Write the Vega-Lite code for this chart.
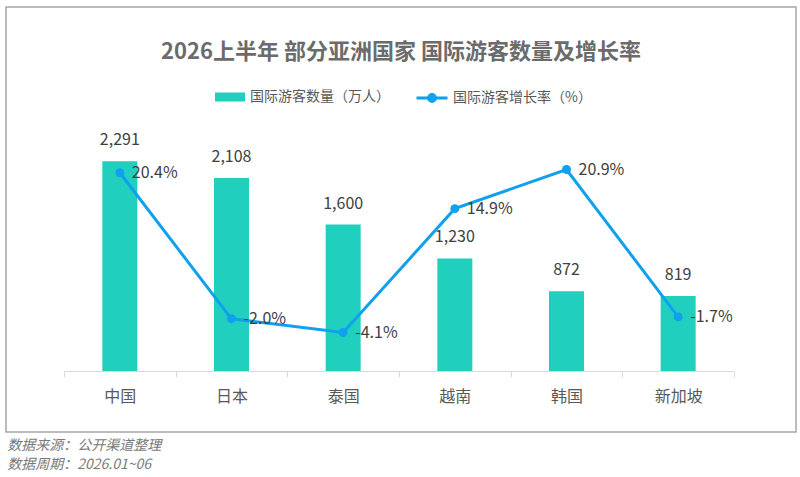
{
  "$schema": "https://vega.github.io/schema/vega-lite/v6.json",
  "autosize": {"type": "pad"},
  "padding": {"left": 5, "top": 6, "right": 5, "bottom": 2},
  "background": "white",
  "title": {
    "text": ["数据来源：公开渠道整理", "数据周期：2026.01~06"],
    "orient": "bottom",
    "anchor": "start",
    "frame": "bounds",
    "offset": 6,
    "fontSize": 14,
    "fontStyle": "italic",
    "fontWeight": "normal",
    "color": "#7a7a7a",
    "lineHeight": 19,
    "baseline": "top",
    "dx": 2
  },
  "vconcat": [
    {
      "width": 790,
      "height": 425,
      "title": {
        "text": "2026上半年 部分亚洲国家 国际游客数量及增长率",
        "orient": "top",
        "anchor": "middle",
        "frame": "group",
        "offset": -57,
        "fontSize": 22,
        "fontWeight": "bold",
        "color": "#6b6b6b"
      },
      "data": {
        "values": [
          {"country": "中国", "visitors": 2291, "growth": 0.204},
          {"country": "日本", "visitors": 2108, "growth": -0.020},
          {"country": "泰国", "visitors": 1600, "growth": -0.041},
          {"country": "越南", "visitors": 1230, "growth": 0.149},
          {"country": "韩国", "visitors": 872, "growth": 0.209},
          {"country": "新加坡", "visitors": 819, "growth": -0.017}
        ]
      },
      "encoding": {
        "x": {
          "field": "country",
          "type": "nominal",
          "sort": null,
          "scale": {"range": [58, 728], "paddingInner": 0, "paddingOuter": 0},
          "axis": {
            "title": null,
            "orient": "bottom",
            "offset": -61,
            "labelAngle": 0,
            "labelFontSize": 16,
            "labelColor": "#595959",
            "labelPadding": 11,
            "domainColor": "#d9d9d9",
            "domainWidth": 1,
            "tickColor": "#d9d9d9",
            "tickSize": 6,
            "tickBand": "extent"
          }
        }
      },
      "layer": [
        {
          "layer": [
            {
              "mark": {"type": "bar", "width": 35},
              "encoding": {
                "y": {"field": "visitors", "type": "quantitative", "scale": {"domain": [0, 2600], "range": [364, 126], "nice": false}, "axis": null},
                "fill": {
                  "datum": "国际游客数量（万人）",
                  "type": "nominal",
                  "scale": {"range": ["#20CFBD"]},
                  "legend": {
                    "title": null,
                    "orient": "none",
                    "legendX": 208,
                    "legendY": 74,
                    "padding": 0,
                    "symbolType": "M-1,-0.3H1V0.3H-1Z",
                    "symbolSize": 900,
                    "labelFontSize": 14,
                    "labelColor": "#595959",
                    "labelOffset": 4
                  }
                }
              }
            },
            {
              "mark": {"type": "text", "baseline": "bottom", "dy": -13, "fontSize": 16, "color": "#404040"},
              "encoding": {
                "y": {"field": "visitors", "type": "quantitative"},
                "text": {"field": "visitors", "type": "quantitative", "format": ","}
              }
            }
          ]
        },
        {
          "layer": [
            {
              "mark": {"type": "line", "strokeWidth": 3},
              "encoding": {
                "y": {"field": "growth", "type": "quantitative", "scale": {"domain": [-0.10, 0.265], "range": [364, 126], "nice": false, "zero": false}, "axis": null},
                "stroke": {
                  "datum": "国际游客增长率（%）",
                  "type": "nominal",
                  "scale": {"range": ["#0FA0EF"]},
                  "legend": {
                    "title": null,
                    "orient": "none",
                    "legendX": 409,
                    "legendY": 74,
                    "padding": 0,
                    "symbolType": "M-1,0H1M0.22,0A0.22,0.22,0,1,1,-0.22,0A0.22,0.22,0,1,1,0.22,0",
                    "symbolSize": 961,
                    "symbolStrokeWidth": 3,
                    "symbolFillColor": "#0FA0EF",
                    "labelFontSize": 14,
                    "labelColor": "#595959",
                    "labelOffset": 4
                  }
                }
              }
            },
            {
              "mark": {"type": "point", "filled": true, "size": 80, "color": "#0FA0EF", "opacity": 1},
              "encoding": {
                "y": {"field": "growth", "type": "quantitative"}
              }
            },
            {
              "mark": {"type": "text", "align": "left", "baseline": "middle", "dx": 12, "fontSize": 16, "color": "#404040"},
              "encoding": {
                "y": {"field": "growth", "type": "quantitative"},
                "text": {"field": "growth", "type": "quantitative", "format": ".1%"}
              }
            }
          ]
        }
      ],
      "resolve": {"scale": {"y": "independent"}}
    }
  ],
  "config": {
    "font": "Noto Sans CJK SC",
    "view": {"stroke": "#a6a6a6", "strokeWidth": 1.5},
    "locale": {
      "number": {"decimal": ".", "thousands": ",", "grouping": [3], "currency": ["", ""], "minus": "-"}
    }
  }
}
